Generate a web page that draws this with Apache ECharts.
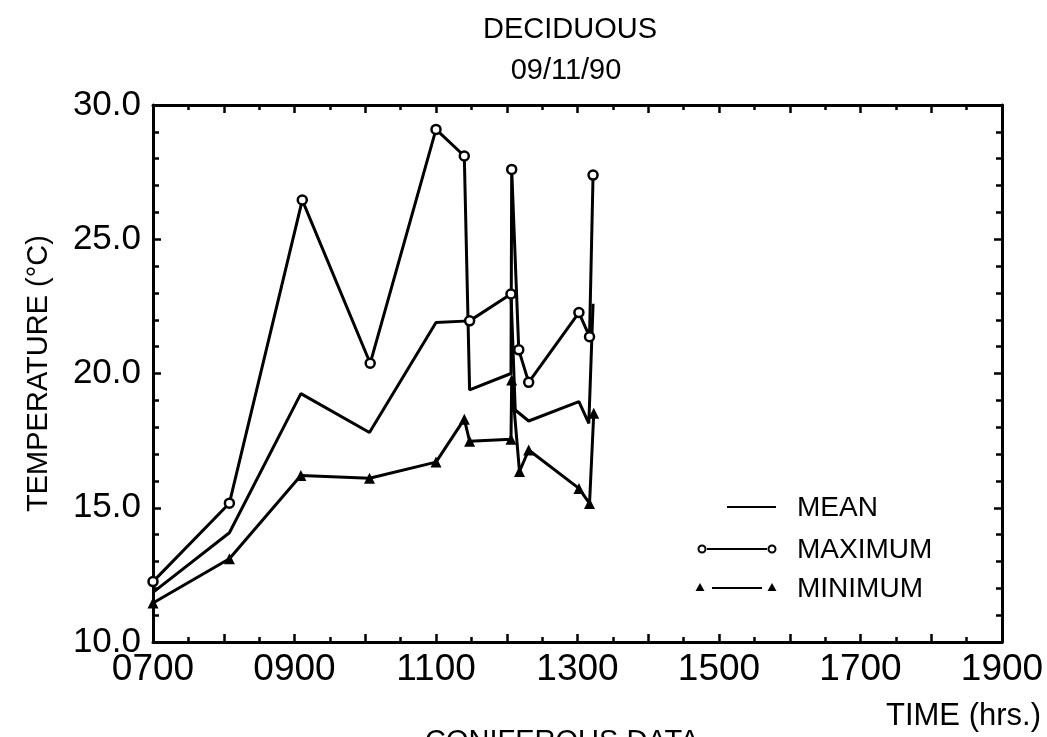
<!DOCTYPE html>
<html>
<head>
<meta charset="utf-8">
<script src="https://cdn.jsdelivr.net/npm/echarts@6/dist/echarts.min.js"></script>
<style>
  html, body { margin: 0; padding: 0; background: #ffffff; }
  #chart { width: 1047px; height: 737px; }
</style>
</head>
<body>
<div id="chart"></div>
<script>
// ---- data (time in decimal hours, temperature in deg C) ----
const xTickLabels = ['0700', '0900', '1100', '1300', '1500', '1700', '1900'];
const yTickLabels = ['10.0', '15.0', '20.0', '25.0', '30.0'];

const maxTimes  = [7.00, 8.08, 9.11, 10.07, 11.00, 11.40, 11.475, 12.06, 12.07, 12.17, 12.31, 13.02, 13.17, 13.22];
const maxValues = [12.25, 15.17, 26.46, 20.38, 29.09, 28.1, 19.39, 20.0, 27.6, 20.88, 19.67, 22.27, 21.37, 27.39];

const meanTimes  = [7.00, 8.08, 9.09, 10.06, 11.00, 11.475, 12.06, 12.12, 12.31, 13.02, 13.16, 13.22];
const meanValues = [11.85, 14.07, 19.25, 17.8, 21.9, 21.96, 22.96, 18.64, 18.23, 18.95, 18.14, 22.6];

const minTimes  = [7.00, 8.08, 9.09, 10.06, 11.00, 11.40, 11.475, 12.06, 12.07, 12.18, 12.31, 13.02, 13.17, 13.23];
const minValues = [11.45, 13.1, 16.2, 16.1, 16.7, 18.3, 17.48, 17.55, 19.76, 16.35, 17.15, 15.72, 15.16, 18.52];

// points drawn with open circles
const circleTimes  = [7.00, 8.08, 9.11, 10.07, 11.00, 11.40, 11.475, 12.06, 12.07, 12.17, 12.31, 13.02, 13.17, 13.22];
const circleValues = [12.25, 15.17, 26.46, 20.38, 29.09, 28.1, 21.96, 22.96, 27.6, 20.88, 19.67, 22.27, 21.37, 27.39];

const zip = (a, b) => a.map((t, i) => [t, b[i]]);

const FONT = '"Liberation Sans", Arial, sans-serif';
const INK = '#000000';

function xLabel(v) {
  const k = (v - 7) / 2;
  return Number.isInteger(k) && xTickLabels[k] ? xTickLabels[k] : '';
}
function yLabel(v) {
  const k = (v - 10) / 5;
  return Number.isInteger(k) && yTickLabels[k] ? yTickLabels[k] : '';
}

function xAxisDef(pos, showLabels) {
  return {
    type: 'value', position: pos, min: 7, max: 19, interval: 1,
    axisLine: { show: true, onZero: false, lineStyle: { color: INK, width: 3 } },
    axisTick: { show: true, inside: true, length: 8, lineStyle: { color: INK, width: 2.5 } },
    minorTick: { show: true, splitNumber: 2, length: 5, lineStyle: { color: INK, width: 2.5 } },
    splitLine: { show: false }, minorSplitLine: { show: false },
    axisLabel: { show: showLabels, formatter: xLabel, color: INK, fontFamily: FONT, fontSize: 37, margin: 9 }
  };
}
function yAxisDef(pos, showLabels) {
  return {
    type: 'value', position: pos, min: 10, max: 30, interval: 5,
    axisLine: { show: true, onZero: false, lineStyle: { color: INK, width: 3 } },
    axisTick: { show: true, inside: true, length: 8, lineStyle: { color: INK, width: 2.5 } },
    minorTick: { show: true, splitNumber: 5, length: 6, lineStyle: { color: INK, width: 2.5 } },
    splitLine: { show: false }, minorSplitLine: { show: false },
    axisLabel: { show: showLabels, formatter: yLabel, color: INK, fontFamily: FONT, fontSize: 35, margin: 12 }
  };
}

const chart = echarts.init(document.getElementById('chart'), null, { renderer: 'canvas' });

const yLeft = yAxisDef('left', true);
yLeft.name = 'TEMPERATURE (°C)';
yLeft.nameLocation = 'middle';
yLeft.nameRotate = 90;
yLeft.nameGap = 100;
yLeft.nameTextStyle = { color: INK, fontFamily: FONT, fontSize: 29 };

const lineStyle = { color: INK, width: 3 };

chart.setOption({
  animation: false,
  backgroundColor: '#ffffff',
  grid: { left: 153, right: 45, top: 105, bottom: 95, containLabel: false },
  xAxis: [xAxisDef('bottom', true), xAxisDef('top', false)],
  yAxis: [yLeft, yAxisDef('right', false)],
  series: [
    { name: 'MAXIMUM', type: 'line', data: zip(maxTimes, maxValues), showSymbol: false,
      lineStyle: lineStyle, z: 2 },
    { name: 'MEAN', type: 'line', data: zip(meanTimes, meanValues), showSymbol: false,
      lineStyle: lineStyle, z: 2 },
    { name: 'MINIMUM', type: 'line', data: zip(minTimes, minValues), symbol: 'triangle', symbolSize: 11,
      showAllSymbol: true, itemStyle: { color: INK, opacity: 1 }, lineStyle: lineStyle, z: 3 },
    { name: 'MAXIMUM markers', type: 'scatter', data: zip(circleTimes, circleValues), symbol: 'circle',
      symbolSize: 9, itemStyle: { color: '#ffffff', borderColor: INK, borderWidth: 2.5, opacity: 1 }, z: 4 }
  ],
  graphic: [
    { type: 'text', x: 570, y: 15, style: { text: 'DECIDUOUS', textAlign: 'center', fill: INK, font: '29px ' + FONT } },
    { type: 'text', x: 566, y: 56, style: { text: '09/11/90', textAlign: 'center', fill: INK, font: '29px ' + FONT } },
    { type: 'text', x: 886, y: 701, style: { text: 'TIME (hrs.)', fill: INK, font: '31px ' + FONT } },
    { type: 'text', x: 425, y: 727, style: { text: 'CONIFEROUS DATA', fill: INK, font: '29px ' + FONT } },
    // legend
    { type: 'line', shape: { x1: 727, y1: 507, x2: 776, y2: 507 }, style: { stroke: INK, lineWidth: 2 } },
    { type: 'text', x: 797, y: 494, style: { text: 'MEAN', fill: INK, font: '28px ' + FONT } },
    { type: 'line', shape: { x1: 707, y1: 549, x2: 767, y2: 549 }, style: { stroke: INK, lineWidth: 2 } },
    { type: 'circle', shape: { cx: 702, cy: 549, r: 3.5 }, style: { fill: '#fff', stroke: INK, lineWidth: 2 } },
    { type: 'circle', shape: { cx: 772, cy: 549, r: 3.5 }, style: { fill: '#fff', stroke: INK, lineWidth: 2 } },
    { type: 'text', x: 797, y: 536, style: { text: 'MAXIMUM', fill: INK, font: '28px ' + FONT } },
    { type: 'line', shape: { x1: 712, y1: 588, x2: 762, y2: 588 }, style: { stroke: INK, lineWidth: 2 } },
    { type: 'polygon', shape: { points: [[700, 583], [704.5, 591], [695.5, 591]] }, style: { fill: INK } },
    { type: 'polygon', shape: { points: [[772, 583], [776.5, 591], [767.5, 591]] }, style: { fill: INK } },
    { type: 'text', x: 797, y: 575, style: { text: 'MINIMUM', fill: INK, font: '28px ' + FONT } }
  ]
});
</script>
</body>
</html>
